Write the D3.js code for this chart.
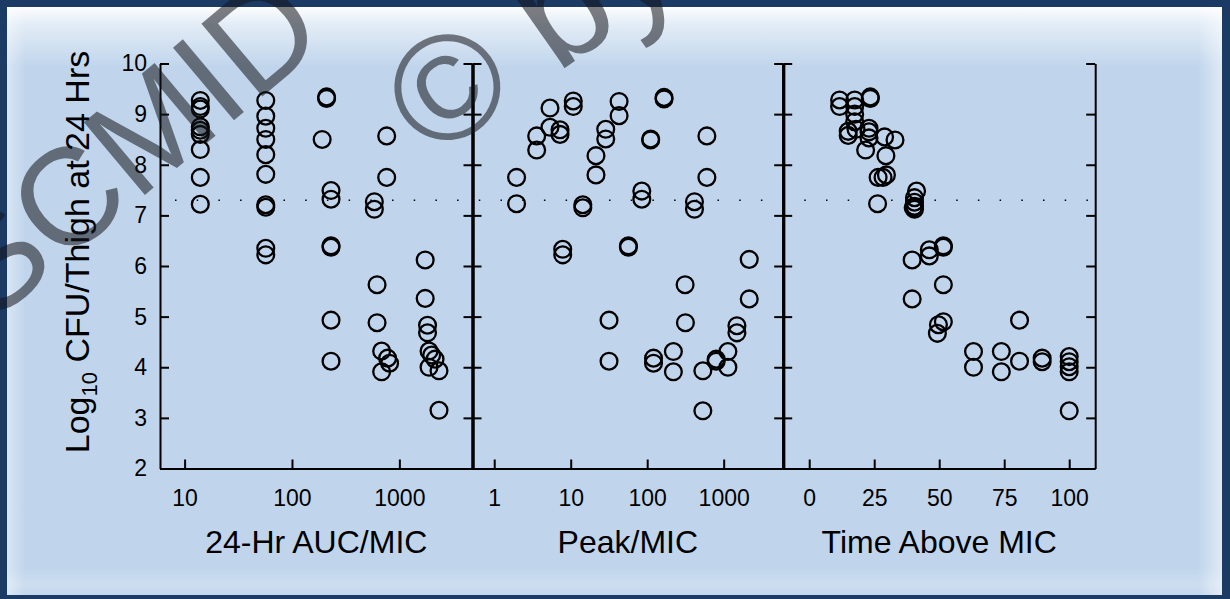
<!DOCTYPE html>
<html>
<head>
<meta charset="utf-8">
<script src="https://cdn.jsdelivr.net/npm/d3@7"></script>
<style>
  html, body { margin: 0; padding: 0; background: #1b3a64; }
  svg { display: block; font-family: "Liberation Sans", Arial, Helvetica, sans-serif; }
</style>
</head>
<body>
<svg id="chart" width="1230" height="599"></svg>
<script>
// ---- data ----------------------------------------------------------------
const yTicks = [2, 3, 4, 5, 6, 7, 8, 9, 10];
const aucTicks = [10, 100, 1000];
const peakTicks = [1, 10, 100, 1000];
const timeTicks = [0, 25, 50, 75, 100];
const stasisLevel = 7.3;

const panelTitles = ["24-Hr AUC/MIC", "Peak/MIC", "Time Above MIC"];
const yTitle = "Log";
const yTitleSub = "10";
const yTitleRest = " CFU/Thigh at 24 Hrs";

// 24-Hr AUC/MIC
const aucX = [
  14, 14, 14, 14, 14, 14, 14, 14, 14,
  57, 57, 57, 57, 57, 57, 57, 57, 57, 57,
  210, 210, 191, 231, 231, 231, 231, 231, 231,
  762, 762, 585, 585, 620, 620, 684, 684, 777, 811,
  1740, 1740, 1830, 1830, 1890, 1890, 2000, 2150, 2340, 2340
];
const aucY = [
  9.27, 9.15, 9.10, 8.75, 8.68, 8.60, 8.30, 7.75, 7.22,
  9.27, 8.96, 8.72, 8.50, 8.20, 7.81, 7.21, 7.16, 6.35, 6.22,
  9.34, 9.31, 8.50, 7.49, 7.32, 6.40, 6.37, 4.93, 4.12,
  8.57, 7.75, 7.27, 7.12, 5.63, 4.88, 4.32, 3.91, 4.18, 4.08,
  6.12, 5.36, 4.83, 4.68, 4.32, 4.00, 4.24, 4.16, 3.93, 3.15
];

// Peak/MIC
const peakX = [
  1.96, 1.96, 3.59, 3.59, 5.36, 5.36, 7.25, 7.25, 10.8, 10.8,
  21.4, 21.4, 28.7, 28.7, 42.9, 42.9, 14.4, 14.4, 7.86, 7.86,
  56.8, 56.8, 85, 85, 111, 111, 166, 166, 415, 415,
  603, 603, 313, 316, 2157, 2157, 31.7, 31.7, 121, 121,
  220, 220, 534, 534, 798, 798, 1135, 1135, 1490, 1490
];
const peakY = [
  7.75, 7.23, 8.57, 8.29, 9.12, 8.74, 8.69, 8.60, 9.26, 9.15,
  8.18, 7.80, 8.70, 8.51, 9.25, 8.97, 7.21, 7.15, 6.33, 6.22,
  6.40, 6.37, 7.48, 7.32, 8.51, 8.49, 9.33, 9.30, 7.27, 7.12,
  8.57, 7.75, 5.63, 4.88, 6.13, 5.35, 4.93, 4.12, 4.18, 4.08,
  4.31, 3.91, 3.93, 3.14, 4.16, 4.12, 4.31, 4.00, 4.82, 4.68
];

// Time above MIC (%)
const timeX = [
  11.7, 11.7, 17.5, 17.5, 17.5, 17.5, 23.5, 23.5,
  15.0, 15.0, 18, 23, 23, 23, 21.7, 29, 33, 29.5,
  26.5, 28.4, 29.7, 26.3,
  41.3, 40.5, 40.5, 40.5, 40.5, 40,
  39.6, 46.2, 46.2, 51.6, 51.6, 51.6, 39.6,
  51.6, 49.7, 49.3,
  63.2, 63.2, 73.9, 73.9, 80.9, 80.9, 89.6, 89.6,
  100, 100, 100, 100, 100
];
const timeY = [
  9.28, 9.15, 9.28, 9.15, 9.00, 8.85, 9.34, 9.31,
  8.66, 8.58, 8.70, 8.72, 8.65, 8.53, 8.29, 8.55, 8.49, 8.18,
  7.75, 7.75, 7.80, 7.23,
  7.48, 7.35, 7.26, 7.18, 7.12, 7.15,
  6.12, 6.32, 6.20, 6.40, 6.37, 5.63, 5.35,
  4.90, 4.84, 4.67,
  4.31, 4.00, 4.31, 3.91, 4.93, 4.12, 4.18, 4.11,
  4.21, 4.11, 4.01, 3.91, 3.14
];

// ---- layout ----------------------------------------------------------------
const W = 1230, H = 599;
const plotTop = 63.5, plotBottom = 468.5;
const edges = [160, 472.5, 783.2, 1095.2];

const svg = d3.select("#chart");
const defs = svg.append("defs");

// slide background: navy frame with a pale blue bevelled panel
function vGrad(id, stops, horizontal) {
  const g = defs.append("linearGradient").attr("id", id)
    .attr("x1", 0).attr("y1", 0).attr("x2", horizontal ? 1 : 0).attr("y2", horizontal ? 0 : 1);
  stops.forEach(s => g.append("stop").attr("offset", s[0])
    .attr("stop-color", "#ffffff").attr("stop-opacity", s[1]));
}
vGrad("topGlow", [[0, 0.95], [0.3, 0.55], [1, 0]], false);
vGrad("leftGlow", [[0, 0.4], [1, 0]], true);
vGrad("rightGlow", [[0, 0], [1, 0.5]], true);
vGrad("bottomGlow", [[0, 0], [0.6, 0.2], [1, 0.05]], false);

svg.append("rect").attr("width", W).attr("height", H).attr("fill", "#1b3a64");
const panel = { x: 7, y: 7, w: 1215, h: 588 };
svg.append("rect").attr("x", panel.x).attr("y", panel.y).attr("width", panel.w).attr("height", panel.h)
  .attr("fill", "#c0d5ec");
svg.append("rect").attr("x", panel.x).attr("y", panel.y).attr("width", panel.w).attr("height", 60)
  .attr("fill", "url(#topGlow)");
svg.append("rect").attr("x", panel.x).attr("y", panel.y).attr("width", 18).attr("height", panel.h)
  .attr("fill", "url(#leftGlow)");
svg.append("rect").attr("x", panel.x + panel.w - 24).attr("y", panel.y).attr("width", 24).attr("height", panel.h)
  .attr("fill", "url(#rightGlow)");
svg.append("rect").attr("x", panel.x).attr("y", 568).attr("width", panel.w).attr("height", 27)
  .attr("fill", "url(#bottomGlow)");

// ---- scales ------------------------------------------------------------------
const y = d3.scaleLinear().domain([2, 10]).range([plotBottom, plotTop]);
const xAuc = d3.scaleLog().domain([5.9, 4800]).range([edges[0], edges[1]]);
const xPeak = d3.scaleLog().domain([0.52, 6000]).range([edges[1], edges[2]]);
const xTime = d3.scaleLinear().domain([-10, 110]).range([edges[2], edges[3]]);

const panels = [
  { x: xAuc, ticks: aucTicks, xs: aucX, ys: aucY, fmt: d3.format("d") },
  { x: xPeak, ticks: peakTicks, xs: peakX, ys: peakY, fmt: d3.format("d") },
  { x: xTime, ticks: timeTicks, xs: timeX, ys: timeY, fmt: d3.format("d") }
];

const chart = svg.append("g");

// stasis reference (dotted)
chart.append("line")
  .attr("x1", 175).attr("x2", edges[3])
  .attr("y1", y(stasisLevel)).attr("y2", y(stasisLevel))
  .attr("stroke", "#000").attr("stroke-width", 1.5)
  .attr("stroke-dasharray", "1.5,20.2");

function styleAxis(g, width) {
  g.selectAll("path.domain").attr("stroke", "#000").attr("stroke-width", width);
  g.selectAll(".tick line").attr("stroke", "#000").attr("stroke-width", 2);
  g.selectAll(".tick text").attr("fill", "#000").style("font-size", "23px")
    .style("font-family", "'Liberation Sans', Arial, sans-serif");
}

panels.forEach((p, i) => {
  // x axis along the bottom, ticks pointing inward
  const xa = chart.append("g").attr("transform", `translate(0,${plotBottom})`)
    .call(d3.axisBottom(p.x).tickValues(p.ticks).tickFormat(p.fmt)
      .tickSizeInner(-9).tickSizeOuter(0).tickPadding(21));
  styleAxis(xa, 2.2);

  // left edge of the panel
  const la = chart.append("g").attr("transform", `translate(${edges[i]},0)`)
    .call(d3.axisLeft(y).tickValues(yTicks)
      .tickFormat(i === 0 ? d3.format("d") : () => "")
      .tickSizeInner(-9).tickSizeOuter(0).tickPadding(13));
  styleAxis(la, i === 0 ? 2 : 3);

  // right edge of the panel
  const ra = chart.append("g").attr("transform", `translate(${edges[i + 1]},0)`)
    .call(d3.axisRight(y).tickValues(yTicks).tickFormat(() => "")
      .tickSizeInner(-9).tickSizeOuter(0));
  styleAxis(ra, i === 2 ? 2 : 3);

  // points
  chart.append("g").selectAll("circle")
    .data(p.xs.map((v, k) => [v, p.ys[k]]))
    .join("circle")
    .attr("cx", d => p.x(d[0]))
    .attr("cy", d => y(d[1]))
    .attr("r", 8.4)
    .attr("fill", "none")
    .attr("stroke", "#000")
    .attr("stroke-width", 2.3);

  // panel title
  chart.append("text")
    .attr("x", (edges[i] + edges[i + 1]) / 2)
    .attr("y", 553)
    .attr("text-anchor", "middle")
    .style("font-size", "32px")
    .attr("fill", "#000")
    .text(panelTitles[i]);
});

// y title with subscript
const yt = chart.append("text")
  .attr("transform", `translate(89,252) rotate(-90)`)
  .attr("text-anchor", "middle")
  .style("font-size", "34px")
  .attr("fill", "#000");
yt.append("tspan").text(yTitle);
yt.append("tspan").attr("dy", 8).style("font-size", "22px").text(yTitleSub);
yt.append("tspan").attr("dy", -8).text(yTitleRest);

// ---- watermark -------------------------------------------------------------
const wm = svg.append("g").attr("fill", "rgba(20,22,28,0.55)")
  .style("font-family", "'Liberation Sans', Arial, sans-serif");
wm.append("text").attr("transform", "translate(66,196) rotate(-40)")
  .style("font-size", "138px")
  .attr("x", -234).attr("y", 50).text("ESCMID eLibrary");
wm.append("text").attr("transform", "translate(447,87) rotate(-35)")
  .style("font-size", "150px")
  .attr("x", -55).attr("y", 52).text("© by author");
</script>
</body>
</html>
